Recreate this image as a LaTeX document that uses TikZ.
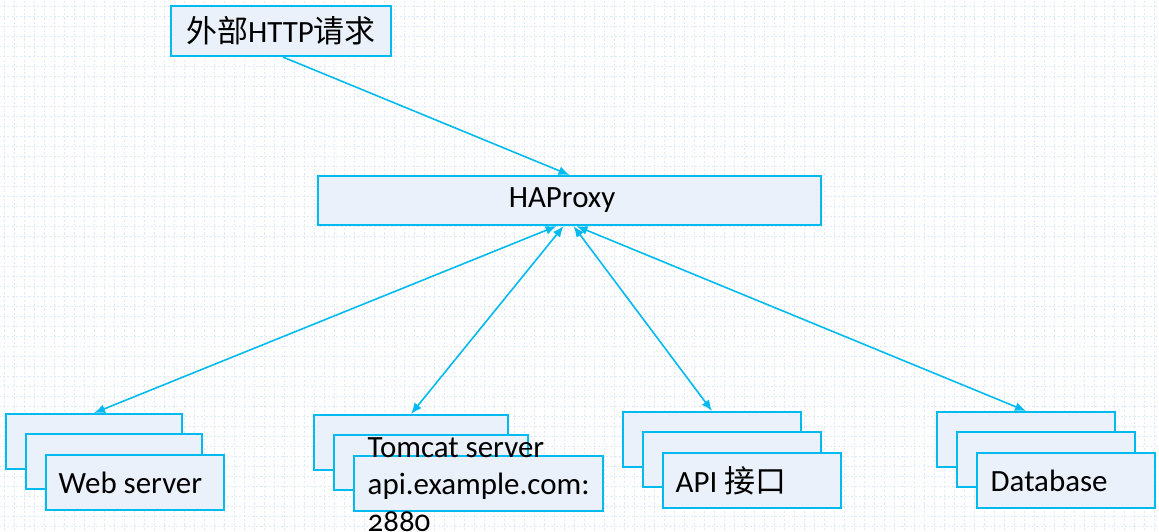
\documentclass[tikz,border=0pt]{standalone}
\usepackage{fontspec}
\setmainfont{Carlito}[Numbers=OldStyle]
\newfontfamily\cjk{Noto Sans CJK SC}
\usepackage{tikz}
\usetikzlibrary{positioning,arrows.meta}

\definecolor{hpblue}{RGB}{0,186,240}
\definecolor{hpfill}{RGB}{234,241,250}
\definecolor{hpgrid}{RGB}{222,234,248}

\tikzset{
    panel/.style={draw=hpblue, fill=hpfill, line width=0.6pt, anchor=north west, inner sep=0pt},
    card/.style={panel, minimum height=0.55cm},
    lbl/.style={inner sep=0pt, font=\fontsize{8.8}{10.5}\selectfont, align=left},
    link/.style={draw=hpblue, line width=0.45pt, -{Latex[length=1.1mm,width=0.9mm]}},
    duplex/.style={link, {Latex[length=1.1mm,width=0.9mm]}-{Latex[length=1.1mm,width=0.9mm]}}
}

\begin{document}
\begin{tikzpicture}
    \useasboundingbox (0,0) rectangle (11.59,-5.32);

    % Background grid
    \begin{scope}[shift={(0.047,-0.067)}]
        \draw[hpgrid, line width=0.3pt, dash pattern=on 0.6pt off 0.6pt, step=0.1] (-0.1,-5.4) grid (11.6,0.1);
    \end{scope}

    % Request and proxy
    \node[panel, minimum width=2.2cm, minimum height=0.5cm, font=\fontsize{8.8}{10.5}\selectfont] (req) at (1.70,-0.05) {{\cjk 外部}HTTP{\cjk 请求}};
    \node[panel, minimum width=5.03cm, minimum height=0.49cm, font=\fontsize{8.8}{10.5}\selectfont] (hap) at (3.17,-1.75) {\hspace*{-0.15cm}HAProxy};

    % Server stacks
    \foreach \n/\x/\y/\w/\wf in {web/0.05/4.13/1.76/1.78, tom/3.13/4.14/1.94/2.49, api/6.22/4.11/1.78/1.78, db/9.36/4.11/1.78/1.78} {
        \node[card, minimum width=\w cm] (\n1) at (\x,-\y) {};
        \node[card, minimum width=\w cm] (\n2) at (\x+0.2,-\y-0.2) {};
        \node[card, minimum width=\wf cm] (\n3) at (\x+0.4,-\y-0.41) {};
    }

    % Labels
    \node[lbl, right=0.13cm of web3.west] (weblbl) {Web server};
    \node[lbl, right=0.14cm of tom3.west, yshift=-0.01cm] (tomlbl) {Tomcat server\\api.example.com:\\2880};
    \node[lbl, right=0.13cm of api3.west] (apilbl) {API {\cjk 接口}};
    \node[lbl, right=0.14cm of db3.west] (dblbl) {Database};

    % Connections
    \draw[link] ([xshift=0.02cm]req.south) -- (hap.north);
    \foreach \n/\s in {web/-0.13, tom/-0.06, api/0.04, db/0.07}
        \draw[duplex] ([xshift=\s cm]hap.south) -- (\n1.north);
\end{tikzpicture}
\end{document}
